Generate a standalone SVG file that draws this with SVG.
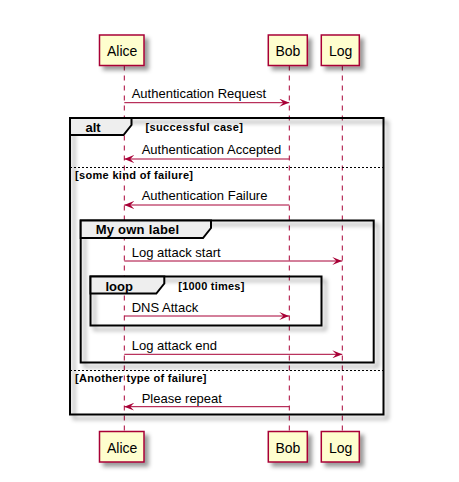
<svg xmlns="http://www.w3.org/2000/svg" width="459" height="482" viewBox="0 0 459 482">
<defs>
<filter id="sh" x="-1" y="-1" width="300%" height="300%">
<feGaussianBlur in="SourceAlpha" stdDeviation="2" result="b"/>
<feColorMatrix type="matrix" in="b" result="c" values="0 0 0 0 0 0 0 0 0 0 0 0 0 0 0 0 0 0 .4 0"/>
<feOffset in="c" dx="4" dy="4" result="o"/>
<feBlend in="SourceGraphic" in2="o" mode="normal"/>
</filter>
<marker id="ah" viewBox="0 0 10 8" refX="10" refY="4" markerWidth="10" markerHeight="8" markerUnits="userSpaceOnUse" orient="auto-start-reverse">
<polygon points="0,0 10,4 0,8 4,4" fill="#A80036"/>
</marker>
<style>
text{font-family:"Liberation Sans",Arial,sans-serif;fill:#000}
.pbox{fill:#FEFECE;stroke:#A80036;stroke-width:1.5}
.pname{font-size:14px}
.life{stroke:#A80036;stroke-width:1;stroke-dasharray:5,5}
.msg{stroke:#A80036;stroke-width:1;fill:none}
.mtxt{font-size:13px}
.gframe{fill:none;stroke:#000;stroke-width:2}
.gtab{fill:#EEEEEE;stroke:#000;stroke-width:2}
.gkey{font-size:13px;font-weight:bold}
.gcond{font-size:11px;font-weight:bold}
.sep{stroke:#000;stroke-width:1;stroke-dasharray:2,2}
</style>
</defs>

<g id="lifelines">
<line class="life" x1="124.3" y1="65.5" x2="124.3" y2="431"/>
<line class="life" x1="289.3" y1="65.5" x2="289.3" y2="431"/>
<line class="life" x1="342.3" y1="65.5" x2="342.3" y2="431"/>
</g>

<g id="alice">
<rect class="pbox" filter="url(#sh)" x="99.5" y="35" width="44.5" height="30.5"/>
<text class="pname" x="107" y="56">Alice</text>
<rect class="pbox" filter="url(#sh)" x="99.5" y="431.5" width="44.5" height="30.5"/>
<text class="pname" x="107" y="452.5">Alice</text>
</g>
<g id="bob">
<rect class="pbox" filter="url(#sh)" x="268.3" y="35" width="39" height="30.5"/>
<text class="pname" x="275.5" y="56">Bob</text>
<rect class="pbox" filter="url(#sh)" x="268.3" y="431.5" width="39" height="30.5"/>
<text class="pname" x="275.5" y="452.5">Bob</text>
</g>
<g id="log">
<rect class="pbox" filter="url(#sh)" x="321.3" y="35" width="38" height="30.5"/>
<text class="pname" x="329" y="56">Log</text>
<rect class="pbox" filter="url(#sh)" x="321.3" y="431.5" width="38" height="30.5"/>
<text class="pname" x="329" y="452.5">Log</text>
</g>

<g id="alt">
<rect class="gframe" filter="url(#sh)" x="70" y="118" width="313.5" height="296.5"/>
<polygon class="gtab" points="70,118 131.5,118 131.5,125 123.5,135 70,135"/>
<text class="gkey" x="85.5" y="131.5">alt</text>
<text class="gcond" x="145.5" y="130.5" textLength="97.5">[successful case]</text>
<line class="sep" x1="70" y1="167.5" x2="383.5" y2="167.5"/>
<text class="gcond" x="75" y="178.5" textLength="118">[some kind of failure]</text>
<line class="sep" x1="70" y1="370.5" x2="383.5" y2="370.5"/>
<text class="gcond" x="75" y="381.5" textLength="131.5">[Another type of failure]</text>
</g>

<g id="group-my-own-label">
<rect class="gframe" filter="url(#sh)" x="80.7" y="220.5" width="293" height="142"/>
<polygon class="gtab" points="80.7,220.5 211,220.5 211,228 203,238 80.7,238"/>
<text class="gkey" x="95.7" y="234" textLength="83.5">My own label</text>
</g>

<g id="loop">
<rect class="gframe" filter="url(#sh)" x="90.5" y="276.5" width="231" height="49"/>
<polygon class="gtab" points="90.5,276.5 164.3,276.5 164.3,283.5 156.3,293.5 90.5,293.5"/>
<text class="gkey" x="105.5" y="290.5">loop</text>
<text class="gcond" x="178.3" y="289.5" textLength="66">[1000 times]</text>
</g>

<g id="connectors">
<line class="msg" x1="124.3" y1="102.7" x2="289.3" y2="102.7" marker-end="url(#ah)"/>
<text class="mtxt" x="131.7" y="98">Authentication Request</text>
<line class="msg" x1="289.3" y1="159" x2="124.3" y2="159" marker-end="url(#ah)"/>
<text class="mtxt" x="141.7" y="154">Authentication Accepted</text>
<line class="msg" x1="289.3" y1="205" x2="124.3" y2="205" marker-end="url(#ah)"/>
<text class="mtxt" x="141.7" y="200">Authentication Failure</text>
<line class="msg" x1="124.3" y1="261" x2="342.3" y2="261" marker-end="url(#ah)"/>
<text class="mtxt" x="131.7" y="256.5">Log attack start</text>
<line class="msg" x1="124.3" y1="316" x2="289.3" y2="316" marker-end="url(#ah)"/>
<text class="mtxt" x="131.7" y="311.5">DNS Attack</text>
<line class="msg" x1="124.3" y1="354.3" x2="342.3" y2="354.3" marker-end="url(#ah)"/>
<text class="mtxt" x="131.7" y="349.5">Log attack end</text>
<line class="msg" x1="289.3" y1="406.7" x2="124.3" y2="406.7" marker-end="url(#ah)"/>
<text class="mtxt" x="141.7" y="402.5">Please repeat</text>
</g>
</svg>
